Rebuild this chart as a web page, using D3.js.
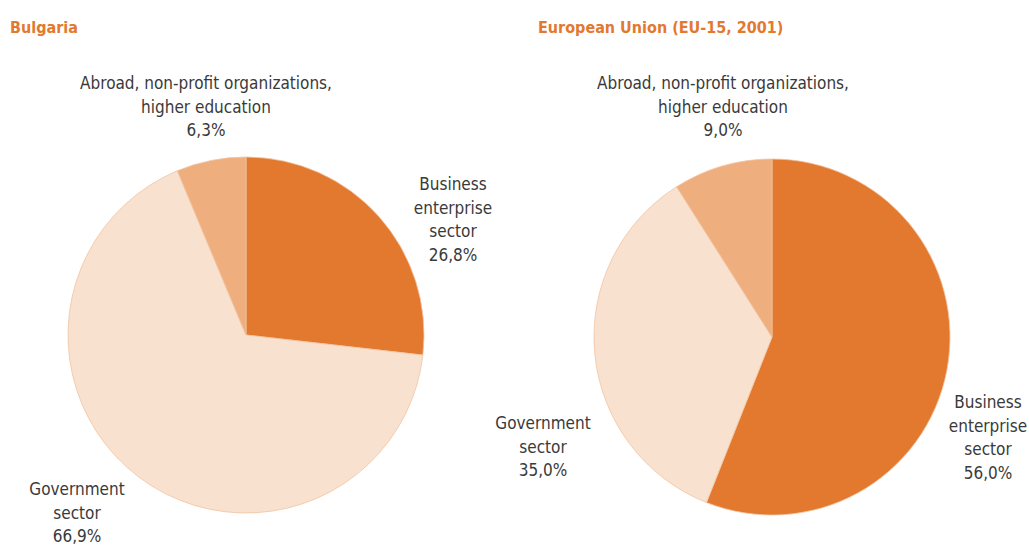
<!DOCTYPE html>
<html>
<head>
<meta charset="utf-8">
<script src="https://cdn.jsdelivr.net/npm/d3@7"></script>
<style>
  body { margin: 0; background: #fff; }
  svg text { font-family: "Liberation Sans Narrow", "DejaVu Sans Condensed", "Liberation Sans", sans-serif; }
  .title { font-weight: bold; fill: #e2792f; font-size: 16px; }
  .lbl { fill: #3a3a3a; font-size: 17px; }
</style>
</head>
<body>
<div id="chart"></div>
<script>
// sectors, clockwise from 12 o'clock
let sectors = ["Business enterprise sector", "Government sector", "Abroad, non-profit organizations, higher education"];
let bulgariaValues = [26.8, 66.9, 6.3];
let euValues = [56.0, 35.0, 9.0];
let titles = ["Bulgaria", "European Union (EU-15, 2001)"];

// label lines per sector (as printed)
let labelLines = [
    ["Business", "enterprise", "sector"],
    ["Government", "sector"],
    ["Abroad, non-profit organizations,", "higher education"]
];

let colors = ["#e2792f", "#f9e1cf", "#efae7d"];

// layout: pie centres and where each label block sits (first line centre)
let pies = [
    {title: titles[0], values: bulgariaValues, cx: 246, cy: 335, r: 178, tx: 10,
     labels: [[453, 184], [77, 489], [206, 83]]},
    {title: titles[1], values: euValues, cx: 772, cy: 337, r: 178, tx: 538,
     labels: [[988, 402], [543, 423], [723, 83]]}
];

let width = 1029, height = 545;
let svg = d3.select("#chart").append("svg")
    .attr("width", width)
    .attr("height", height);

let pie = d3.pie().sort(null).value(d => d);
let fmt = v => d3.format(".1f")(v).replace(".", ",") + "%";

pies.forEach(function (p) {
    svg.append("text")
        .attr("class", "title")
        .attr("x", p.tx)
        .attr("y", 33)
        .text(p.title);

    let arc = d3.arc().innerRadius(0).outerRadius(p.r);
    let g = svg.append("g")
        .attr("transform", "translate(" + p.cx + "," + p.cy + ")");

    g.selectAll("path")
        .data(pie(p.values))
        .enter().append("path")
        .attr("d", arc)
        .attr("fill", (d, i) => colors[i])
        .attr("stroke", "#f1c39f")
        .attr("stroke-width", 0.8);

    // labels
    p.values.forEach(function (v, i) {
        let lines = labelLines[i].concat([fmt(v)]);
        let t = svg.append("text")
            .attr("class", "lbl")
            .attr("text-anchor", "middle")
            .attr("x", p.labels[i][0])
            .attr("y", p.labels[i][1] + 6);
        lines.forEach(function (s, k) {
            t.append("tspan")
                .attr("x", p.labels[i][0])
                .attr("dy", k === 0 ? 0 : 23.7)
                .text(s);
        });
    });
});
</script>
</body>
</html>
